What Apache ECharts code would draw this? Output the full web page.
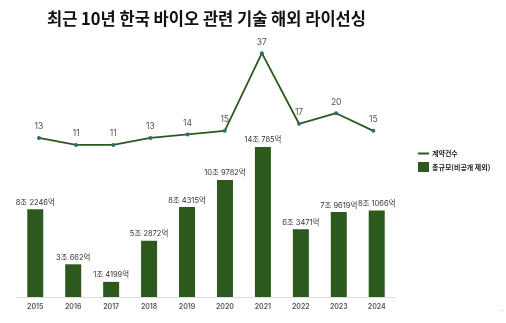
<!DOCTYPE html>
<html><head><meta charset="utf-8">
<script src="https://cdn.jsdelivr.net/npm/echarts@6/dist/echarts.min.js"></script>
<style>html,body{margin:0;padding:0;background:#fff}#c{width:506px;height:323px}</style>
</head><body><div id="c"></div>
<script>
const years = ['2015','2016','2017','2018','2019','2020','2021','2022','2023','2024'];
const contractCounts = [13, 11, 11, 13, 14, 15, 37, 17, 20, 15];
// 총규모 in 억원
const totalScale = [82246, 30662, 14199, 52872, 84315, 109782, 140785, 63471, 79619, 81066];
const titleText = '최근 10년 한국 바이오 관련 기술 해외 라이선싱';
const lineName = '계약건수';
const barName = '총규모(비공개 제외)';

const FONT = '"Noto Sans CJK KR", "Noto Sans", sans-serif';
const NUMFONT = 'Inter, "Noto Sans CJK KR", sans-serif';
const GREEN = '#2b5a1c';

function fmt(v){
  const jo = Math.floor(v/10000), eok = v % 10000;
  return jo + '조 ' + eok + '억';
}

const chart = echarts.init(document.getElementById('c'), null, {renderer:'canvas'});
chart.setOption({
  animation:false,
  textStyle:{fontFamily:FONT},
  title:{text:titleText, left:42, top:5, textStyle:{fontFamily:FONT, fontSize:16.5, fontWeight:'bold', color:'#111'}},
  legend:{
    orient:'vertical', left:413, top:145, itemWidth:11, itemHeight:10, itemGap:5,
    textStyle:{fontFamily:FONT, fontSize:7, fontWeight:'bold', color:'#222', padding:[0,0,0,-2]},
    data:[
      {name:lineName, icon:'path://M0,0 L11,0 L11,2 L0,2 Z', itemStyle:{color:GREEN}},
      {name:barName, icon:'rect', itemStyle:{color:GREEN}}
    ]
  },
  grid:[
    {left:20.4, right:114.1, top:42.6, height:141.2},
    {left:16.3, right:110.3, top:126.4, bottom:26}
  ],
  xAxis:[
    {gridIndex:0, type:'category', data:years, show:false},
    {gridIndex:1, type:'category', data:years,
     axisLine:{lineStyle:{color:'#ddd', width:1}}, axisTick:{show:false},
     axisLabel:{fontFamily:NUMFONT, fontSize:7, fontWeight:600, color:'#555', margin:6}}
  ],
  yAxis:[
    {gridIndex:0, type:'value', min:0, max:40, show:false, splitLine:{show:false}},
    {gridIndex:1, type:'value', min:0, max:160000, show:false, splitLine:{show:false}}
  ],
  series:[
    {name:lineName, type:'line', xAxisIndex:0, yAxisIndex:0, data:contractCounts,
     symbol:'circle', symbolSize:4, lineStyle:{color:GREEN, width:1.8},
     itemStyle:{color:'#2e6b7c'},
     label:{show:true, position:'top', distance:5, fontFamily:NUMFONT, fontSize:8.5, color:'#555'}},
    {name:barName, type:'bar', xAxisIndex:1, yAxisIndex:1, data:totalScale, barWidth:16,
     itemStyle:{color:GREEN},
     label:{show:true, position:'top', distance:3, fontFamily:NUMFONT, fontSize:7.5, color:'#333',
            formatter:p=>fmt(p.value)}}
  ],
  graphic:[{type:'text', left:499, top:307, style:{text:'←', fontSize:6, fill:'#999'}}]
});
</script></body></html>
